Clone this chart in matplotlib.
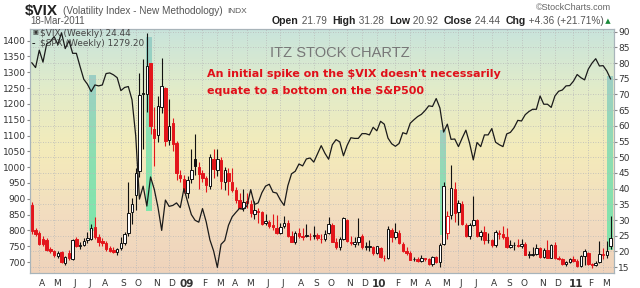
import matplotlib
matplotlib.use("Agg")
import matplotlib.pyplot as plt
import matplotlib.dates as mdates
from matplotlib.colors import LinearSegmentedColormap
from matplotlib.transforms import ScaledTranslation
import numpy as np
import pandas as pd

# weekly bars, 21-Mar-2008 .. 18-Mar-2011
weeks = pd.date_range("2008-03-21", periods=157, freq="W-FRI")

vix_open = [
    34.8, 26.8, 25.8, 24.0, 23.8, 20.8, 20.2, 18.5, 19.7, 16.4,
    19.5, 17.6, 23.9, 21.6, 22.1, 23.6, 24.0, 27.8, 24.6, 23.2,
    22.8, 21.0, 20.6, 19.9, 21.0, 22.6, 26.0, 32.5, 38.0, 45.5,
    70.5, 70.0, 80.0, 59.0, 57.0, 66.0, 72.0, 55.5, 61.0, 54.5,
    44.5,
    43.0, 38.5, 43.0, 49.5, 47.0, 45.0, 43.5, 41.0, 49.5, 46.0,
    49.0, 42.0, 45.0, 42.0, 39.5, 36.5, 34.0, 36.0, 35.0, 32.0,
    33.0, 32.5, 29.0, 29.5, 28.5, 27.5, 26.0, 28.0, 29.0, 25.0,
    23.0, 26.0, 25.0, 25.0, 25.0, 25.0, 25.3, 24.0, 24.0, 25.8,
    28.5, 23.0, 21.5, 24.0, 30.0, 23.0, 22.5, 23.0, 25.0, 21.5,
    21.5, 21.5,
    19.5,
    21.0, 18.0, 18.0, 27.0, 24.5, 26.0, 22.5, 20.0, 19.5, 17.5,
    17.5, 17.0, 17.8, 17.5, 16.0, 18.3, 16.7, 22.5, 26.0, 31.7,
    40.0, 32.5, 35.0, 28.5, 25.0, 28.5, 30.0, 25.0, 26.3, 23.5,
    23.5, 22.0, 26.0, 25.5, 24.5, 21.3, 22.0, 22.0, 21.7, 22.5,
    19.0, 19.0, 19.2, 21.0, 18.3, 20.5, 18.0, 22.0, 18.0, 17.5,
    16.0, 16.5,
    17.5, 17.0, 15.5, 18.5, 19.5, 16.0, 15.7, 16.5, 19.0, 19.0, 21.79,
]
vix_high = [
    35.6, 27.6, 26.4, 24.8, 24.4, 21.3, 20.6, 20.3, 20.0, 18.6,
    20.5, 23.9, 24.6, 22.9, 24.2, 26.2, 28.6, 31.1, 25.6, 24.2,
    23.3, 21.8, 21.5, 21.2, 24.6, 26.3, 42.2, 37.0, 46.7, 76.9,
    81.2, 89.5, 80.1, 66.1, 69.4, 81.5, 72.5, 68.6, 62.5, 55.3,
    46.0,
    44.5, 43.9, 52.6, 57.4, 48.5, 46.0, 44.0, 50.9, 52.6, 52.6,
    50.0, 47.0, 46.5, 46.5, 40.5, 38.5, 40.0, 38.5, 36.5, 36.0,
    33.8, 33.0, 32.0, 30.0, 32.0, 31.5, 29.0, 31.3, 30.0, 26.5,
    26.5, 27.5, 27.5, 28.8, 25.8, 28.0, 25.8, 25.5, 27.0, 31.0,
    29.0, 24.2, 24.5, 31.0, 30.5, 25.0, 24.5, 30.7, 25.5, 23.0,
    23.5, 21.8,
    21.8,
    21.5, 19.0, 28.0, 27.5, 29.2, 27.0, 23.0, 21.5, 20.0, 18.3,
    18.2, 19.0, 18.0, 17.8, 18.6, 18.5, 22.8, 42.2, 33.0, 47.6,
    42.0, 36.5, 36.0, 29.0, 29.0, 37.6, 30.5, 27.0, 28.0, 26.0,
    24.0, 27.0, 27.0, 28.0, 27.5, 23.5, 23.0, 24.0, 24.0, 23.0,
    20.0, 21.5, 22.5, 21.5, 21.0, 23.5, 22.5, 23.0, 18.5, 18.0,
    16.9, 18.0,
    18.5, 17.5, 18.8, 20.8, 19.8, 16.3, 16.9, 23.2, 21.0, 23.2, 31.28,
]
vix_low = [
    25.6, 24.8, 22.2, 21.8, 20.1, 19.6, 18.4, 17.8, 16.3, 15.8,
    17.2, 17.4, 21.5, 20.8, 21.8, 22.8, 23.5, 24.0, 21.8, 21.6,
    20.0, 19.7, 19.4, 18.8, 20.5, 22.1, 24.8, 28.9, 33.1, 43.8,
    52.6, 64.4, 57.4, 47.3, 55.0, 64.0, 53.5, 54.0, 52.0, 42.8,
    42.0,
    38.5, 37.0, 41.8, 44.5, 40.0, 42.0, 38.8, 39.8, 43.5, 44.0,
    40.0, 39.5, 38.0, 39.0, 35.5, 33.5, 33.0, 34.0, 31.0, 30.5,
    29.0, 28.5, 28.3, 27.5, 27.0, 25.5, 25.5, 27.5, 24.5, 23.0,
    22.5, 24.3, 23.8, 24.5, 23.5, 24.0, 23.8, 22.8, 23.2, 25.5,
    23.0, 20.8, 20.5, 23.5, 23.0, 22.0, 21.5, 22.0, 20.8, 20.5,
    20.0, 19.0,
    19.3,
    18.0, 16.9, 17.5, 23.0, 24.0, 22.5, 19.8, 19.0, 17.2, 17.0,
    16.5, 16.8, 17.0, 15.6, 15.5, 16.2, 15.2, 22.0, 24.0, 30.5,
    29.5, 28.5, 28.5, 24.5, 24.0, 28.0, 24.5, 23.5, 22.5, 22.8,
    21.5, 21.5, 24.0, 24.0, 21.0, 21.0, 20.5, 21.5, 21.0, 18.8,
    18.0, 18.5, 19.0, 17.9, 17.9, 17.9, 17.8, 17.5, 17.2, 15.6,
    15.5, 16.3,
    16.6, 15.2, 15.2, 15.8, 15.8, 14.8, 15.4, 16.4, 17.5, 18.0, 20.92,
]
vix_close = [
    26.6, 25.7, 22.5, 22.3, 20.4, 20.1, 18.9, 19.6, 16.5, 18.1,
    17.8, 23.6, 21.9, 22.2, 23.4, 24.2, 27.5, 24.7, 22.9, 22.6,
    20.7, 20.2, 19.8, 20.7, 22.6, 25.7, 32.1, 35.0, 45.1, 69.9,
    70.3, 79.1, 59.9, 56.1, 66.3, 72.7, 55.3, 59.9, 54.3, 44.9,
    43.4,
    39.2, 42.8, 46.1, 47.3, 44.8, 43.4, 41.2, 50.0, 46.4, 49.3,
    42.4, 45.9, 42.6, 39.7, 36.5, 33.9, 35.8, 35.3, 32.1, 33.1,
    32.6, 28.9, 29.6, 28.2, 27.9, 25.9, 27.9, 29.0, 25.0, 23.1,
    25.9, 25.0, 24.7, 25.0, 24.8, 25.3, 24.2, 23.9, 25.6, 28.7,
    23.1, 21.4, 23.9, 30.7, 23.2, 22.8, 23.0, 24.7, 21.3, 21.6,
    21.6, 19.5,
    21.7,
    18.1, 17.9, 27.3, 24.6, 26.1, 22.7, 20.0, 19.5, 17.4, 17.6,
    17.0, 17.8, 17.5, 16.1, 18.4, 16.6, 22.1, 41.0, 31.2, 40.1,
    32.1, 35.5, 28.8, 24.9, 28.5, 30.1, 25.0, 26.3, 23.5, 23.5,
    22.1, 26.2, 25.5, 24.5, 21.3, 22.0, 22.0, 21.7, 22.5, 19.0,
    19.0, 19.1, 21.2, 18.3, 20.6, 18.0, 22.2, 18.0, 17.6, 16.1,
    16.5, 17.75,
    17.1, 15.5, 18.5, 20.0, 15.9, 15.7, 16.4, 19.2, 19.1, 20.08, 24.44,
]
spx_close = [
    1330, 1315, 1370, 1332, 1390, 1397, 1413, 1388, 1425, 1375,
    1400, 1360, 1360, 1318, 1278, 1262, 1239, 1260, 1257, 1260,
    1296, 1298, 1292, 1283, 1242, 1252, 1255, 1213, 1099, 899,
    940, 877, 969, 930, 873, 800, 896, 876, 879, 887,
    872,
    932, 890, 850, 832, 826, 869, 827, 770, 735, 683,
    756, 768, 816, 843, 857, 870, 866, 878, 929, 882,
    887, 919, 940, 946, 921, 918, 896, 879, 941, 979,
    987, 1010, 1004, 1026, 1029, 1016, 1042, 1068, 1044, 1025,
    1071, 1087, 1080, 1036, 1069, 1093, 1091, 1091, 1106, 1106,
    1102, 1126,
    1115,
    1145, 1136, 1092, 1074, 1066, 1075, 1109, 1105, 1139, 1150,
    1160, 1167, 1179, 1194, 1192, 1217, 1187, 1111, 1136, 1088,
    1089, 1065, 1092, 1117, 1076, 1023, 1078, 1065, 1102, 1102,
    1122, 1079, 1071, 1065, 1105, 1110, 1125, 1148, 1146, 1166,
    1176, 1183, 1183, 1225, 1199, 1199, 1189, 1225, 1240, 1244,
    1257, 1258,
    1272, 1293, 1283, 1276, 1310, 1329, 1343, 1320, 1321, 1304, 1279.2,
]

# highlight boxes drawn on the chart: start, end, vix low, vix high
bands = [
    ("2008-07-07", "2008-07-20", 26.4, 75.8),
    ("2008-10-22", "2008-11-01", 32.9, 88.0),
    ("2010-04-30", "2010-05-11", 25.4, 58.8),
    ("2011-03-11", "2011-03-22", 20.6, 75.8),
]

W, H = 640, 288


def px(x, y):
    return x / W, 1 - y / H


fig = plt.figure(figsize=(6.4, 2.88), dpi=100)
fig.patch.set_facecolor("white")
ax = fig.add_axes([30 / W, 15 / H, 584 / W, 244.5 / H])
ax2 = ax.twinx()

x = mdates.date2num(weeks)

# background gradient
bg = LinearSegmentedColormap.from_list(
    "bg", [(0, "#c8e4dc"), (0.25, "#e2ecc9"), (0.5, "#f4ebba"),
           (0.78, "#f2dcc0"), (1, "#efd3bb")])
ax.imshow(np.linspace(0, 1, 256).reshape(-1, 1), extent=[0, 1, 0, 1],
          transform=ax.transAxes, aspect="auto", cmap=bg, zorder=0)

# highlight bands
band_cm = LinearSegmentedColormap.from_list("band", ["#8ec8c2", "#74dcb0", "#62eaa6"])
for start, end, lo, hi in bands:
    x0 = mdates.date2num(pd.Timestamp(start))
    x1 = mdates.date2num(pd.Timestamp(end))
    ax.imshow(np.linspace(0, 1, 64).reshape(-1, 1), extent=[x0, x1, lo, hi],
              aspect="auto", cmap=band_cm, alpha=0.8, zorder=1)

# candles
prev = [vix_open[0]] + vix_close[:-1]
colors = ["#e3151b" if c < p else "#111111" for c, p in zip(vix_close, prev)]
faces = [col if c < o else "white" for col, o, c in zip(colors, vix_open, vix_close)]
bottoms = [min(o, c) for o, c in zip(vix_open, vix_close)]
heights = [max(abs(c - o), 0.15) for o, c in zip(vix_open, vix_close)]
ax.vlines(x, vix_low, vix_high, colors=colors, linewidth=0.8, zorder=3)
ax.bar(x, heights, bottom=bottoms, width=4.6, color=faces, edgecolor=colors,
       linewidth=0.7, zorder=4)

# S&P line
ax2.plot(x, spx_close, color="#1a1a1a", linewidth=0.9, zorder=5)

ax.set_xlim(x[0] - 3.5, x[-1] + 6.5)
ax.set_ylim(13.15, 91.0)
ax2.set_ylim(665.3, 1438.5)

# axis ticks
ax.yaxis.tick_right()
ax.set_yticks(range(15, 91, 5))
ax2.yaxis.set_ticks_position("left")
ax2.set_yticks(range(700, 1401, 50))
for a in (ax, ax2):
    a.tick_params(axis="y", labelsize=6.5, labelcolor="#333333", length=2,
                  color="#8a8a8a", pad=1)
    for s in a.spines.values():
        s.set_color("#a8b4ba")
        s.set_linewidth(0.8)

s = pd.Series(weeks)
per = s.dt.to_period("M")
month_first = s[per.ne(per.shift())].iloc[1:]
ax.set_xticks(mdates.date2num(month_first))
labels = [f"{d.year % 100:02d}" if d.month == 1 else d.strftime("%b")[0]
          for d in month_first]
ax.set_xticklabels(labels)
ax.tick_params(axis="x", labelsize=6.5, labelcolor="#333333", length=0, pad=4)
shift = ScaledTranslation(2.5 / 100, 0, fig.dpi_scale_trans)
for lbl, d in zip(ax.get_xticklabels(), month_first):
    lbl.set_transform(lbl.get_transform() + shift)
    if d.month == 1:
        lbl.set_fontweight("bold")
        lbl.set_fontsize(7.5)

ax.grid(True, color="#b9b9b9", linestyle=(0, (1, 2)), linewidth=0.6)
ax.set_axisbelow(False)
for gl in ax.get_xgridlines() + ax.get_ygridlines():
    gl.set_zorder(0.5)

# header
fig.text(*px(25, 11), "$VIX", fontsize=11, fontweight="bold", color="#222222",
         va="center", family="Liberation Sans")
fig.text(*px(63, 11.5), "(Volatility Index - New Methodology)", fontsize=7.2,
         color="#555555", va="center", family="Liberation Sans")
fig.text(*px(227, 11.5), "INDX", fontsize=6, color="#555555", va="center",
         family="Liberation Sans")
fig.text(*px(30, 21.5), "18-Mar-2011", fontsize=7, color="#555555", va="center",
         family="Liberation Sans")
fig.text(*px(611, 8), "\u00a9StockCharts.com", fontsize=6.5, color="#666666",
         va="center", ha="right", family="Liberation Sans")

parts = [("Open", True), (" 21.79  ", False), ("High", True), (" 31.28  ", False),
         ("Low", True), (" 20.92  ", False), ("Close", True), (" 24.44  ", False),
         ("Chg", True), (" +4.36 (+21.71%)", False)]
prev_t = fig.text(*px(272, 21.5), "", fontsize=7.5, va="center")
for txt, bold in parts:
    prev_t = ax.annotate(txt, xy=(1, 0.5), xycoords=prev_t, va="center",
                         ha="left", fontsize=7.6 if bold else 7.2,
                         fontweight="bold" if bold else "normal",
                         color="#222222" if bold else "#555555",
                         family="Liberation Sans", annotation_clip=False)
ax.annotate(" \u25b2", xy=(1, 0.5), xycoords=prev_t, va="center", ha="left",
            fontsize=5, color="#1a8a3a", annotation_clip=False)

# legend
fig.text(*px(32, 33), "\u25a3", fontsize=4.5, color="#333333", va="center")
fig.text(*px(40, 33), "$VIX (Weekly) 24.44", fontsize=6.4, color="#444444",
         va="center")
fig.text(*px(32, 43), "\u2013", fontsize=5, color="#111111", va="center",
         fontweight="bold")
fig.text(*px(40, 43), "$SPX (Weekly) 1279.20", fontsize=6.4, color="#444444",
         va="center")

# annotations
fig.text(*px(340, 53), "ITZ STOCK CHARTZ", fontsize=10.5, color="#777777",
         va="center", ha="center", family="Liberation Sans")
fig.text(*px(207, 74), "An initial spike on the $VIX doesn't necessarily",
         fontsize=8.0, fontweight="bold", color="#e0101a", va="center")
fig.text(*px(207, 90.5), "equate to a bottom on the S&P500",
         fontsize=8.0, fontweight="bold", color="#e0101a", va="center")

fig.savefig("out.png", dpi=100)
